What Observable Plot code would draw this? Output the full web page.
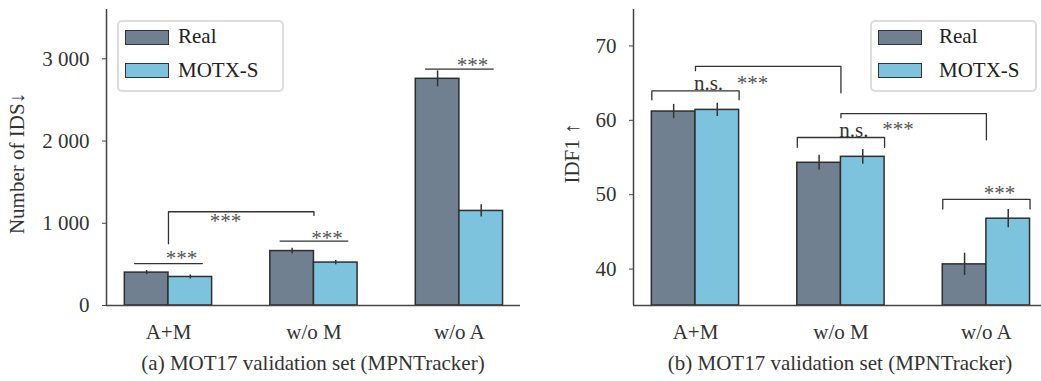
<!DOCTYPE html>
<html>
<head>
<meta charset="utf-8">
<script src="https://cdn.jsdelivr.net/npm/d3@7"></script>
<script src="https://cdn.jsdelivr.net/npm/@observablehq/plot@0.6"></script>
<style>
  html, body { margin: 0; padding: 0; background: #fff; overflow: hidden; }
  body { width: 1047px; height: 381px; font-family: "Liberation Serif", "Times New Roman", serif; color: #333; }
  #wrap { display: flex; flex-direction: row; }
  .panel { position: relative; }
  .panel svg { display: block; }
  .caption { font-size: 21px; line-height: 24px; margin-top: 6px; text-align: center; color: #333; }
  .legend { position: absolute; top: 20px; height: 68px; border: 2px solid #dcdcdc; border-radius: 5px; background: #fff; box-sizing: content-box; }
  .sw { position: absolute; width: 42px; height: 13px; border: 1.5px solid #333; }
  .lt { position: absolute; font-size: 21px; line-height: 21px; white-space: nowrap; color: #222; }
</style>
</head>
<body>
<div id="wrap"></div>
<script>
// ---------- data ----------
const categories = ["A+M", "w/o M", "w/o A"];
const series = ["Real", "MOTX-S"];
const seriesColors = ["#708090", "#7DC3DE"];

// (a) Number of IDS
const idsReal = [400, 662, 2757];
const idsRealErr = [25, 35, 97];
const idsMotx = [347, 522, 1150];
const idsMotxErr = [25, 26, 75];
const idsTicks = [0, 1000, 2000, 3000];
const idsDomain = [0, 3600];
// significance annotations (data units)
const idsPairLines = [{cat: "A+M", y: 510}, {cat: "w/o M", y: 784}, {cat: "w/o A", y: 2875}];
const idsPairLabels = [{cat: "A+M", y: 610, label: "***"}, {cat: "w/o M", y: 853, label: "***"}, {cat: "w/o A", y: 2955, label: "***"}];
const idsCross = [{from: "A+M", to: "w/o M", top: 1140, footFrom: 752, footTo: 1095}];
const idsCrossLabels = [{from: "A+M", y: 1059, label: "***"}];

// (b) IDF1
const idf1Real = [61.18, 54.29, 40.63];
const idf1RealErr = [0.96, 1.0, 1.5];
const idf1Motx = [61.4, 55.09, 46.77];
const idf1MotxErr = [0.89, 1.0, 1.23];
const idf1Ticks = [40, 50, 60, 70];
const idf1Domain = [35.1, 74.9];
const idf1Brackets = [{cat: "A+M", top: 63.96, foot: 62.75}, {cat: "w/o M", top: 57.69, foot: 56.38}, {cat: "w/o A", top: 49.36, foot: 48.06}];
const idf1PairLabels = [{cat: "A+M", y: 64.09, label: "n.s."}, {cat: "w/o M", y: 57.82, label: "n.s."}, {cat: "w/o A", y: 50.57, label: "***"}];
const idf1Cross = [{from: "A+M", to: "w/o M", top: 67.26, footFrom: 66.68, footTo: 63.69}, {from: "w/o M", to: "w/o A", top: 60.91, footFrom: 60.33, footTo: 57.38}];
const idf1CrossLabels = [{from: "A+M", y: 65.34, label: "***"}, {from: "w/o M", y: 59.2, label: "***"}];

// ---------- layout ----------
const xDomain = [-0.426, 2.42];
const HALF = 0.3;      // bar width in category units
const LINE_HALF = 0.233;
const ci = c => categories.indexOf(c);

function buildPanel(cfg) {
  const rows = categories.flatMap((c, i) => [
    {i, s: series[0], v: cfg.real[i], e: cfg.realErr[i]},
    {i, s: series[1], v: cfg.motx[i], e: cfg.motxErr[i]}
  ]);
  const x1 = d => d.s === series[0] ? d.i - HALF : d.i;
  const x2 = d => d.s === series[0] ? d.i : d.i + HALF;
  const xc = d => (x1(d) + x2(d)) / 2;
  const base = cfg.yDomain[0];

  // bracket / line paths
  const paths = [];
  (cfg.pairLines || []).forEach((d, k) => {
    const c = ci(d.cat);
    paths.push({k: "p" + k, x: c - LINE_HALF, y: d.y}, {k: "p" + k, x: c + LINE_HALF, y: d.y});
  });
  (cfg.brackets || []).forEach((d, k) => {
    const c = ci(d.cat);
    paths.push({k: "b" + k, x: c - HALF, y: d.foot}, {k: "b" + k, x: c - HALF, y: d.top},
               {k: "b" + k, x: c + HALF, y: d.top}, {k: "b" + k, x: c + HALF, y: d.foot});
  });
  (cfg.cross || []).forEach((d, k) => {
    const a = ci(d.from), b = ci(d.to);
    paths.push({k: "c" + k, x: a, y: d.footFrom}, {k: "c" + k, x: a, y: d.top},
               {k: "c" + k, x: b, y: d.top}, {k: "c" + k, x: b, y: d.footTo});
  });

  const pairLabels = cfg.pairLabels.map(d => ({...d, x: ci(d.cat)}));
  const crossLabels = cfg.crossLabels.map(d => ({...d, x: ci(d.from)}));

  return Plot.plot({
    width: cfg.width,
    height: 345,
    marginLeft: cfg.marginLeft,
    marginRight: 0,
    marginTop: 9,
    marginBottom: 40,
    style: {fontFamily: "Liberation Serif, serif", fontSize: "21px", color: "#333", background: "transparent", overflow: "visible"},
    x: {domain: xDomain, axis: null},
    y: {domain: cfg.yDomain, axis: null},
    color: {domain: series, range: seriesColors},
    marks: [
      Plot.rect(rows, {x1, x2, y1: base, y2: "v", fill: "s", stroke: "#2e2e2e", strokeWidth: 1.5}),
      Plot.ruleX(rows, {x: xc, y1: d => d.v - d.e, y2: d => d.v + d.e, stroke: "#333", strokeWidth: 1.5}),
      Plot.line(paths, {x: "x", y: "y", z: "k", stroke: "#333", strokeWidth: 1.3, curve: "linear"}),
      Plot.text(pairLabels.filter(d => d.label === "***"), {x: "x", y: "y", text: "label", dx: 13, dy: 3, fill: "#555", lineAnchor: "middle"}),
      Plot.text(pairLabels.filter(d => d.label !== "***"), {x: "x", y: "y", text: "label", dx: 13, fill: "#333", lineAnchor: "bottom"}),
      Plot.text(crossLabels, {x: "x", y: "y", text: "label", dx: 57, dy: 3, fill: "#555", lineAnchor: "middle"}),
      Plot.ruleY([base], {stroke: "#444", strokeWidth: 1.5}),
      Plot.ruleX([xDomain[0]], {stroke: "#444", strokeWidth: 1.5}),
      Plot.axisY(cfg.yTicks, {tickSize: 4, tickPadding: 13, tickFormat: cfg.tickFormat, label: null, stroke: "#444"}),
      Plot.axisX([0, 1, 2], {tickSize: 0, tickPadding: 19, tickFormat: i => categories[i], label: null}),
      Plot.text([cfg.label], {frameAnchor: "left", rotate: -90, lineAnchor: "top", textAnchor: "middle", dx: cfg.labelDx, dy: cfg.labelDy, fill: "#333"})
    ]
  });
}

function addLegend(panel, boxLeft, swLeft, textLeft) {
  const lg = document.createElement("div");
  lg.className = "legend";
  lg.style.left = boxLeft + "px";
  lg.style.width = "163px";
  panel.appendChild(lg);
  const tops = [30, 63], textTops = [25.5, 59.5];
  series.forEach((s, k) => {
    const sw = document.createElement("div");
    sw.className = "sw";
    sw.style.left = swLeft + "px";
    sw.style.top = tops[k] + "px";
    sw.style.background = seriesColors[k];
    panel.appendChild(sw);
    const t = document.createElement("div");
    t.className = "lt";
    t.style.left = textLeft + "px";
    t.style.top = textTops[k] + "px";
    t.textContent = s;
    panel.appendChild(t);
  });
}

const fmtThousands = d => d3.format(",")(d).replace(/,/g, " ");

const wrap = document.getElementById("wrap");

// panel (a)
const pa = document.createElement("div");
pa.className = "panel";
pa.style.width = "520px";
pa.appendChild(buildPanel({
  width: 520, marginLeft: 106,
  yDomain: idsDomain, yTicks: idsTicks, tickFormat: fmtThousands,
  real: idsReal, realErr: idsRealErr, motx: idsMotx, motxErr: idsMotxErr,
  pairLines: idsPairLines, brackets: [], cross: idsCross,
  pairLabels: idsPairLabels, crossLabels: idsCrossLabels,
  label: "Number of IDS↓", labelDx: -97, labelDy: 6
}));
const ca = document.createElement("div");
ca.className = "caption";
ca.style.paddingLeft = "106px";
ca.style.width = "414px";
ca.textContent = "(a) MOT17 validation set (MPNTracker)";
pa.appendChild(ca);
addLegend(pa, 117, 125, 178);
wrap.appendChild(pa);

// panel (b)
const pb = document.createElement("div");
pb.className = "panel";
pb.style.width = "527px";
pb.appendChild(buildPanel({
  width: 527, marginLeft: 113,
  yDomain: idf1Domain, yTicks: idf1Ticks, tickFormat: d => String(d),
  real: idf1Real, realErr: idf1RealErr, motx: idf1Motx, motxErr: idf1MotxErr,
  pairLines: [], brackets: idf1Brackets, cross: idf1Cross,
  pairLabels: idf1PairLabels, crossLabels: idf1CrossLabels,
  label: "IDF1 ↑", labelDx: -69, labelDy: -4
}));
const cb = document.createElement("div");
cb.className = "caption";
cb.style.paddingLeft = "113px";
cb.style.width = "414px";
cb.textContent = "(b) MOT17 validation set (MPNTracker)";
pb.appendChild(cb);
addLegend(pb, 350, 358, 419);
wrap.appendChild(pb);
</script>
</body>
</html>
